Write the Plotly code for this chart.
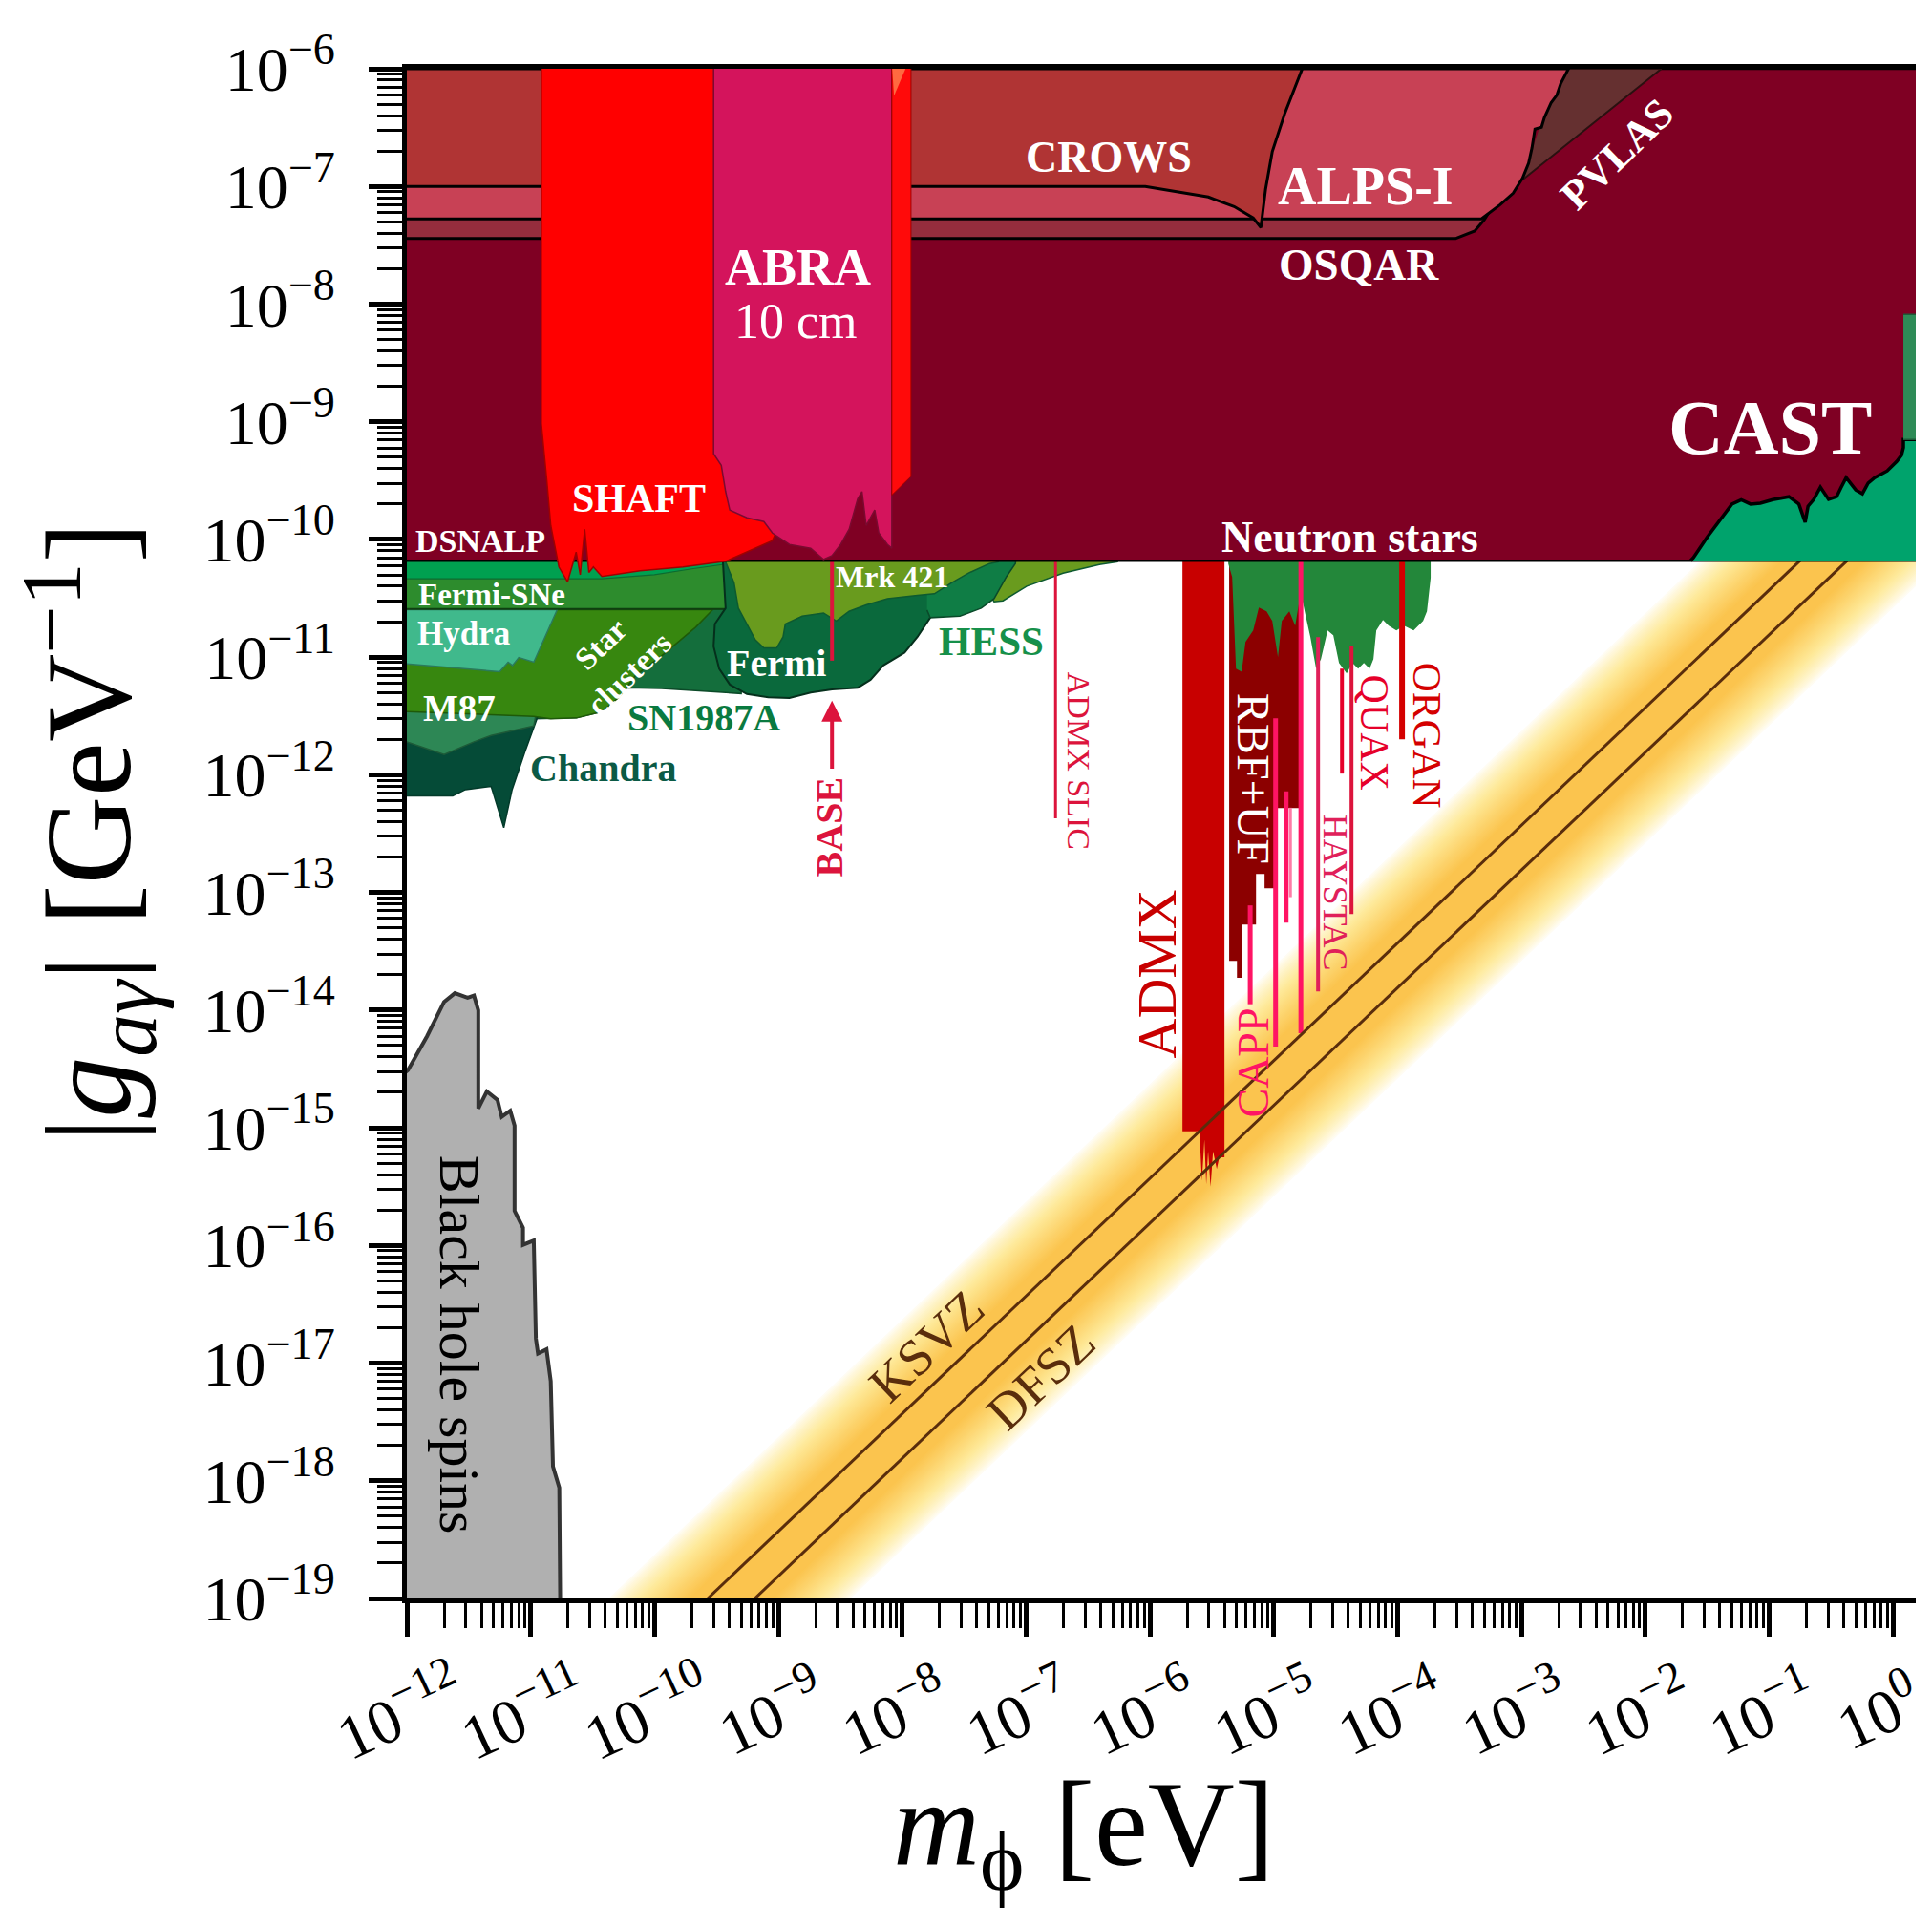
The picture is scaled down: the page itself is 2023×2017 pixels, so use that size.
import numpy as np
import plotly.graph_objects as go

FONT = "Liberation Serif"

# ---------------- QCD axion band: log10 g = log10 m + offset ----------------
ksvz_logm = [-10.0, -0.75]
ksvz_logg = [-19.43, -10.18]
dfsz_logm = [-10.0, -0.37]
dfsz_logg = [-19.81, -10.18]
band_edge_offsets = [-8.61, -10.60]
band_core_offsets = [-9.28, -9.96]

# ---------------- Black hole superradiance ----------------
bh_logm = [-12.10, -11.991, -11.836, -11.699, -11.612, -11.543, -11.509, -11.458, -11.423, -11.423,
           -11.354, -11.268, -11.234, -11.165, -11.130, -11.130, -11.062, -11.062, -10.975, -10.958,
           -10.941, -10.872, -10.838, -10.820, -10.769, -10.762, -10.762, -12.10]
bh_logg = [-14.60, -14.51, -14.22, -13.93, -13.856, -13.876, -13.894, -13.876, -14.002, -14.836,
           -14.691, -14.764, -14.908, -14.855, -14.981, -15.706, -15.850, -15.995, -15.958, -16.792,
           -16.918, -16.883, -17.154, -17.878, -18.059, -19.0, -19.3, -19.3]

# ---------------- Astrophysical bounds (green) ----------------
sn1987a_logm = [-12, -9.30, -9.30, -9.600, -9.943, -10.218, -10.30, -10.425, -10.631, -10.975, -12]
sn1987a_logg = [-10.59, -10.59, -11.31, -11.287, -11.266, -11.260, -11.34, -11.463, -11.517, -11.525, -11.525]
chandra_logm = [-12, -10.941, -11.045, -11.150, -11.217, -11.319, -11.527, -11.629, -12]
chandra_logg = [-11.50, -11.50, -11.801, -12.126, -12.450, -12.098, -12.126, -12.179, -12.179]
m87_logm = [-12, -10.941, -10.975, -11.319, -11.458, -11.699, -12]
m87_logg = [-11.40, -11.40, -11.585, -11.666, -11.720, -11.828, -11.720]
clusters_logm = [-12, -9.530, -9.668, -9.943, -10.150, -10.287, -10.425, -10.631, -10.838, -10.975, -12]
clusters_logg = [-10.597, -10.597, -10.746, -10.990, -11.152, -11.341, -11.463, -11.517, -11.525, -11.503, -11.463]
hydra_logm = [-12, -10.786, -10.975, -11.096, -11.147, -11.182, -11.251, -12]
hydra_logg = [-10.597, -10.597, -11.043, -11.003, -11.071, -11.043, -11.124, -11.057]
fermisne_logm = [-12, -9.30, -9.30, -12]
fermisne_logg = [-10.15, -10.15, -10.59, -10.59]
dsnalp_logm = [-12, -9.40, -9.426, -9.70, -10.0, -10.425, -12]
dsnalp_logg = [-10.15, -10.15, -10.21, -10.25, -10.30, -10.334, -10.334]
fermi_logm = [-9.45, -9.426, -9.513, -9.523, -9.478, -9.392, -9.254, -9.082, -8.911, -8.738, -8.566,
              -8.359, -8.256, -8.153, -7.981, -7.877, -7.774, -7.672, -7.534, -7.362, -7.295, -7.295]
fermi_logg = [-10.15, -10.584, -10.719, -10.909, -11.098, -11.233, -11.314, -11.341, -11.347, -11.301, -11.274,
              -11.260, -11.193, -11.071, -10.962, -10.828, -10.665, -10.530, -10.368, -10.232, -10.191, -10.15]
blazar2_logm = [-7.30, -6.262, -6.262, -6.408, -6.701, -6.994, -7.187, -7.258, -7.30]
blazar2_logg = [-10.15, -10.15, -10.19, -10.213, -10.286, -10.397, -10.522, -10.530, -10.45]
hess_logm = [-7.80, -7.08, -7.086, -7.156, -7.258, -7.362, -7.534, -7.774, -7.80]
hess_logg = [-10.15, -10.15, -10.205, -10.313, -10.503, -10.584, -10.652, -10.665, -10.60]
mrk421_logm = [-9.426, -9.426, -9.358, -9.323, -9.254, -9.186, -9.117, -9.014, -8.962, -8.944, -8.807, -8.635,
               -8.532, -8.429, -8.291, -8.119, -7.877, -7.740, -7.602, -7.464, -7.295, -7.225, -7.225]
mrk421_logg = [-10.15, -10.191, -10.368, -10.584, -10.719, -10.854, -10.922, -10.922, -10.828, -10.719, -10.652, -10.625,
               -10.693, -10.611, -10.557, -10.503, -10.475, -10.462, -10.368, -10.286, -10.205, -10.191, -10.15]

# ---------------- Haloscopes ----------------
admx_logm = [-5.737, -5.398, -5.398, -5.44, -5.46, -5.49, -5.51, -5.53, -5.545, -5.56, -5.58, -5.60, -5.737]
admx_logg = [-10.15, -10.15, -15.25, -15.25, -15.35, -15.20, -15.50, -15.20, -15.48, -15.10, -15.45, -15.03, -15.03]
rbf_logm = [-5.360, -4.773, -4.773, -4.989, -4.989, -5.074, -5.074, -5.143, -5.143, -5.259, -5.259, -5.297, -5.297, -5.360]
rbf_logg = [-10.15, -10.15, -12.283, -12.283, -12.964, -12.964, -12.842, -12.842, -13.272, -13.272, -13.726, -13.726, -13.581, -13.581]
halo_green_logm = [-5.367, -5.336, -5.305, -5.259, -5.228, -5.166, -5.120, -5.058, -5.012, -4.966, -4.935, -4.874,
                   -4.827, -4.781, -4.750, -4.704, -4.658, -4.619, -4.565, -4.519, -4.473, -4.411, -4.365, -4.318,
                   -4.272, -4.226, -4.195, -4.172, -4.118, -4.072, -4.010, -3.948, -3.871, -3.794, -3.763, -3.733,
                   -3.733, -5.367]
halo_green_logg = [-10.205, -10.319, -11.098, -11.124, -10.870, -10.773, -10.578, -10.611, -10.693, -11.000, -10.693,
                   -10.611, -10.733, -10.449, -10.611, -10.830, -11.098, -11.017, -10.773, -10.814, -11.050, -11.139,
                   -11.050, -11.098, -11.050, -11.098, -11.017, -10.773, -10.685, -10.733, -10.773, -10.733, -10.773,
                   -10.693, -10.611, -10.327, -10.15, -10.15]
# vertical exclusion slivers: (log10 m, top log10 g, bottom log10 g)
capp_lines = [(-5.190, -13.11, -13.95), (-4.985, -11.52, -14.31), (-4.900, -12.14, -13.256), (-4.781, -10.15, -14.197)]
capp_faint = [(-4.865, -12.28, -13.04)]
haystac_lines = [(-4.642, -10.83, -13.84)]
quax_lines = [(-4.449, -11.098, -11.99), (-4.372, -10.903, -13.183)]
organ_lines = [(-3.964, -10.15, -11.699)]
admx_slic_lines = [(-6.762, -10.15, -12.371)]
base_lines = [(-8.567, -10.15, -11.03)]

# ---------------- Lab / helioscope bounds (top) ----------------
ns_logm = [-12.0, 0.3, 0.3, -12.0]
ns_logg = [-6.0, -6.0, -10.181, -10.181]
osqar_logm = [-12.0, -3.532, -3.378, -3.30, -3.25, -3.25, -12.0]
osqar_logg = [-7.443, -7.443, -7.379, -7.284, -7.20, -6.0, -6.0]
pvlas_logm = [-2.991, -1.87, -2.70]
pvlas_logg = [-6.944, -6.0, -6.0]
alps_logm = [-12.0, -3.324, -3.172, -3.067, -2.991, -2.942, -2.915, -2.891, -2.838, -2.815, -2.760, -2.714,
             -2.683, -2.652, -2.637, -2.62, -12.0]
alps_logg = [-7.276, -7.276, -7.155, -7.058, -6.930, -6.802, -6.673, -6.513, -6.497, -6.416, -6.288, -6.224,
             -6.127, -6.063, -6.032, -6.0, -6.0]
crows_logm = [-12.0, -6.038, -5.528, -5.320, -5.166, -5.104, -5.066, -5.012, -4.912, -4.784, -4.77, -12.0]
crows_logg = [-7.0, -7.0, -7.090, -7.171, -7.268, -7.349, -7.025, -6.705, -6.384, -6.048, -6.0, -6.0]
hb_logm = [-1.635, -1.611, -1.50, -1.38, -1.30, -1.225, -1.15, -1.071, -0.971, -0.84, -0.76, -0.709, -0.686,
           -0.64, -0.586, -0.52, -0.455, -0.42, -0.378, -0.30, -0.247, -0.20, -0.147, -0.047, 0.030, 0.068,
           0.084, 0.084, 0.30, 0.30]
hb_logg = [-10.181, -10.154, -9.98, -9.816, -9.70, -9.664, -9.70, -9.692, -9.662, -9.637, -9.70, -9.854, -9.718,
           -9.66, -9.556, -9.66, -9.637, -9.56, -9.475, -9.58, -9.611, -9.52, -9.475, -9.418, -9.337, -9.286,
           -9.22, -9.151, -9.151, -10.181]
edge_logm = [0.084, 0.30, 0.30, 0.084]
edge_logg = [-8.088, -8.088, -9.151, -9.151]
shaft_logm = [-10.914, -10.914, -10.87, -10.838, -10.772, -10.702, -10.633, -10.60, -10.564, -10.53, -10.494,
              -10.425, -10.116, -9.770, -9.426, -9.254, -9.048, -9.00, -9.00]
shaft_logg = [-6.0, -9.015, -9.496, -9.881, -10.234, -10.36, -10.108, -10.30, -9.913, -10.28, -10.234,
              -10.315, -10.266, -10.234, -10.186, -10.106, -10.010, -9.90, -6.0]
abra_logm = [-9.523, -9.523, -9.461, -9.426, -9.392, -9.254, -9.117, -9.048, -8.911, -8.739, -8.636, -8.567,
             -8.497, -8.428, -8.359, -8.325, -8.291, -8.222, -8.189, -8.119, -8.084, -8.084]
abra_logg = [-6.0, -9.272, -9.370, -9.593, -9.751, -9.816, -9.848, -9.946, -10.043, -10.075, -10.170, -10.138,
             -10.043, -9.913, -9.654, -9.593, -9.881, -9.751, -9.946, -10.043, -10.075, -6.0]
lc_logm = [-8.084, -8.084, -7.929, -7.929]
lc_logg = [-6.0, -9.624, -9.465, -6.0]
lc_tip_logm = [-8.081, -7.973, -8.066]
lc_tip_logg = [-6.0, -6.0, -6.23]

# ---------------- Axis ticks ----------------
x_decades = list(range(-12, 1))
y_decades = list(range(-19, -5))

fig = go.Figure()


def region(logm, logg, fill, line=None, width=0.0):
    fig.add_trace(go.Scatter(
        x=np.power(10.0, logm), y=np.power(10.0, logg), mode="lines",
        fill="toself", fillcolor=fill,
        line=dict(color=line or fill, width=width),
        hoverinfo="skip", showlegend=False))


def curve(logm, logg, color, width):
    fig.add_trace(go.Scatter(
        x=np.power(10.0, logm), y=np.power(10.0, logg), mode="lines",
        line=dict(color=color, width=width), hoverinfo="skip", showlegend=False))


def slivers(items, color, width):
    for lm, gtop, gbot in items:
        curve([lm, lm], [gtop, gbot], color, width)


# QCD axion band as a soft gradient: outer pale strips first, saturated core last
core_rgb = np.array([251, 196, 78])
mid_rgb = np.array([254, 233, 152])
white = np.array([255, 255, 255])
n_strips = 36
xs = np.array([-13.0, 1.0, 1.0, -13.0])
for i in range(1, n_strips + 1):
    f = i / n_strips
    c_hi = band_edge_offsets[0] + f * (band_core_offsets[0] - band_edge_offsets[0])
    c_lo = band_edge_offsets[1] + f * (band_core_offsets[1] - band_edge_offsets[1])
    s = f ** 0.8
    if s < 0.5:
        rgb = white + (mid_rgb - white) * (s / 0.5)
    else:
        rgb = mid_rgb + (core_rgb - mid_rgb) * ((s - 0.5) / 0.5)
    col = "rgb(%d,%d,%d)" % tuple(np.round(rgb).astype(int))
    ys = xs + np.array([c_hi, c_hi, c_lo, c_lo])
    region(xs, ys, col)

# Black hole spins
region(bh_logm, bh_logg, "#b0b0b0", "#333333", 4)

# Astrophysical bounds
region(sn1987a_logm, sn1987a_logg, "#146e3c", "#0b4a28", 1.5)
region(chandra_logm, chandra_logg, "#054b37", "#033a2a", 1.5)
region(m87_logm, m87_logg, "#2d8755", "#1d5a38", 1.5)
region(clusters_logm, clusters_logg, "#37870f", "#1e5a08", 1.5)
region(hydra_logm, hydra_logg, "#40b98c", "#2a7a5c", 1.5)
region(fermisne_logm, fermisne_logg, "#2d8c2d", "#0f3f10", 2)
region(dsnalp_logm, dsnalp_logg, "#00a050", "#0d6a30", 1.2)
region(fermi_logm, fermi_logg, "#0a693c", "#05301c", 2)
region(blazar2_logm, blazar2_logg, "#699b1e", "#0d5a30", 1.5)
region(hess_logm, hess_logg, "#0f7d45", "#0a4a2a", 1.5)
region(mrk421_logm, mrk421_logg, "#699b1e", "#0d5a30", 1.5)

# Haloscopes
region(admx_logm, admx_logg, "#c80000")
region(rbf_logm, rbf_logg, "#8c0000")
region(halo_green_logm, halo_green_logg, "#23873a")
slivers(capp_faint, "#ff7aa6", 3)
slivers(capp_lines, "#ff1464", 5)
slivers(haystac_lines, "#e0205a", 4)
slivers(quax_lines[:1], "#e6002a", 4)
slivers(quax_lines[1:], "#dc143c", 4)
slivers(organ_lines, "#d40000", 6)
slivers(admx_slic_lines, "#dc143c", 3)
slivers(base_lines, "#dc143c", 4)

# KSVZ / DFSZ model lines
curve(ksvz_logm, ksvz_logg, "#5a2d0c", 3)
curve(dfsz_logm, dfsz_logg, "#5a2d0c", 3)

# Lab, helioscope and stellar bounds on top
region(ns_logm, ns_logg, "#7f0023", "#000000", 2.5)
region(osqar_logm, osqar_logg, "#952d3d", "#000000", 3)
region(pvlas_logm, pvlas_logg, "#653030", "#2a1010", 2)
region(alps_logm, alps_logg, "#c84155", "#000000", 3)
region(crows_logm, crows_logg, "#b03434", "#000000", 3)
region(hb_logm, hb_logg, "#00a36c", "#000000", 3.5)
region(edge_logm, edge_logg, "#2e8b57", "#1d5a38", 1.5)
region(shaft_logm, shaft_logg, "#ff0000", "#a00000", 1.5)
region(abra_logm, abra_logg, "#d4145c", "#7a0a30", 1.5)
region(lc_logm, lc_logg, "#ff0a0a", "#a00000", 1)
region(lc_tip_logm, lc_tip_logg, "#ff6a40")

# ---------------- Labels ----------------
ann = []


def label(text, lm, lg, size, color="white", angle=0, bold=False):
    if bold:
        text = "<b>%s</b>" % text
    ann.append(dict(text=text, x=lm, y=lg, xref="x", yref="y", showarrow=False,
                    textangle=angle, font=dict(family=FONT, size=size, color=color),
                    xanchor="center", yanchor="middle"))


label("CROWS", -6.331, -6.753, 46, bold=True)
label("ALPS-I", -4.257, -7.0, 56, bold=True)
label("OSQAR", -4.310, -7.666, 47, bold=True)
label("PVLAS", -2.228, -6.725, 44, angle=-44, bold=True)
label("CAST", -0.99, -9.053, 80, bold=True)
label("Neutron stars", -4.388, -9.978, 46, bold=True)
label("ABRA", -8.844, -7.690, 54, bold=True)
label("10 cm", -8.860, -8.145, 52)
label("SHAFT", -10.124, -9.654, 42, bold=True)
label("DSNALP", -11.404, -10.010, 34, bold=True)
label("Fermi-SNe", -11.311, -10.473, 33, bold=True)
label("Hydra", -11.543, -10.798, 35, bold=True)
label("Star<br>clusters", -10.322, -11.017, 33, angle=-44, bold=True)
label("M87", -11.574, -11.430, 39, bold=True)
label("Chandra", -10.417, -11.942, 40, color="#0b5a45", bold=True)
label("SN1987A", -9.600, -11.512, 40, color="#0a7a40", bold=True)
label("Fermi", -9.014, -11.049, 40, bold=True)
label("Mrk 421", -8.085, -10.319, 32, bold=True)
label("HESS", -7.279, -10.863, 43, color="#16904a", bold=True)
label("BASE", -8.590, -12.445, 40, color="#dc143c", angle=-90, bold=True)
label("ADMX SLIC", -6.569, -11.884, 34, color="#dc143c", angle=90)
label("ADMX", -5.944, -13.694, 58, color="#c80000", angle=-90)
label("RBF+UF", -5.165, -12.031, 48, angle=90)
label("CAPP", -5.165, -14.449, 46, color="#ff1464", angle=-90)
label("HAYSTAC", -4.509, -13.004, 36, color="#e0205a", angle=90)
label("QUAX", -4.192, -11.641, 42, color="#e6002a", angle=90)
label("ORGAN", -3.760, -11.666, 43, color="#d40000", angle=90)
label("KSVZ", -7.802, -16.859, 54, color="#5a2d0c", angle=-43.5)
label("DFSZ", -6.877, -17.119, 54, color="#5a2d0c", angle=-43.5)
label("Black hole spins", -11.581, -16.843, 60, color="black", angle=90)

# BASE arrow
ann.append(dict(x=-8.567, y=-11.37, ax=-8.567, ay=-11.96, xref="x", yref="y", axref="x", ayref="y",
                text="", showarrow=True, arrowhead=2, arrowsize=1.1, arrowwidth=4, arrowcolor="#dc143c"))

# x tick labels, rotated
for n in x_decades:
    ann.append(dict(text="10<sup>\u2212%d</sup>" % -n if n < 0 else "10<sup>0</sup>",
                    x=n, y=-0.073, xref="x", yref="paper", showarrow=False, textangle=-25,
                    xshift=-8 if n < 0 else -16, font=dict(family=FONT, size=66, color="black"),
                    xanchor="center", yanchor="middle"))

# axis titles
ann.append(dict(text="<i>m</i><sub>\u03d5</sub> [eV]", x=0.449, y=-0.153, xref="paper", yref="paper",
                showarrow=False, font=dict(family=FONT, size=126, color="black"),
                xanchor="center", yanchor="middle"))
ann.append(dict(text="|<i>g</i><sub><i>a\u03b3</i></sub>| [GeV<sup>\u22121</sup>]", x=-0.2108, y=0.501,
                xref="paper", yref="paper", showarrow=False, textangle=-90,
                font=dict(family=FONT, size=128, color="black"),
                xanchor="center", yanchor="middle"))

x_minor = [k * 10.0 ** n for n in range(-12, 0) for k in range(2, 10)]
y_minor = [k * 10.0 ** n for n in range(-19, -6) for k in range(2, 10)]

fig.update_layout(
    width=2023, height=2017,
    margin=dict(l=426, r=17, t=72, b=343, pad=0, autoexpand=False),
    paper_bgcolor="white", plot_bgcolor="white",
    showlegend=False,
    font=dict(family=FONT, color="black"),
    annotations=ann,
    xaxis=dict(type="log", range=[-12, 0.184], tickmode="array",
               tickvals=[10.0 ** n for n in x_decades], showticklabels=False,
               ticks="outside", ticklen=35, tickwidth=4.5, tickcolor="black",
               showline=True, linewidth=5, linecolor="black", mirror=True,
               showgrid=False, zeroline=False,
               minor=dict(tickmode="array", tickvals=x_minor, ticks="outside", ticklen=26,
                          tickwidth=2.5, tickcolor="black", showgrid=False)),
    yaxis=dict(type="log", range=[-19, -6], tickmode="array",
               tickvals=[10.0 ** n for n in y_decades],
               ticktext=["10<sup>\u2212%d</sup>" % -n for n in y_decades],
               tickfont=dict(family=FONT, size=66, color="black"),
               ticklabelstandoff=22,
               ticks="outside", ticklen=35, tickwidth=4.5, tickcolor="black",
               showline=True, linewidth=5, linecolor="black", mirror=False,
               showgrid=False, zeroline=False,
               minor=dict(tickmode="array", tickvals=y_minor, ticks="outside", ticklen=26,
                          tickwidth=2.5, tickcolor="black", showgrid=False)),
)

fig.write_html("out.html")
